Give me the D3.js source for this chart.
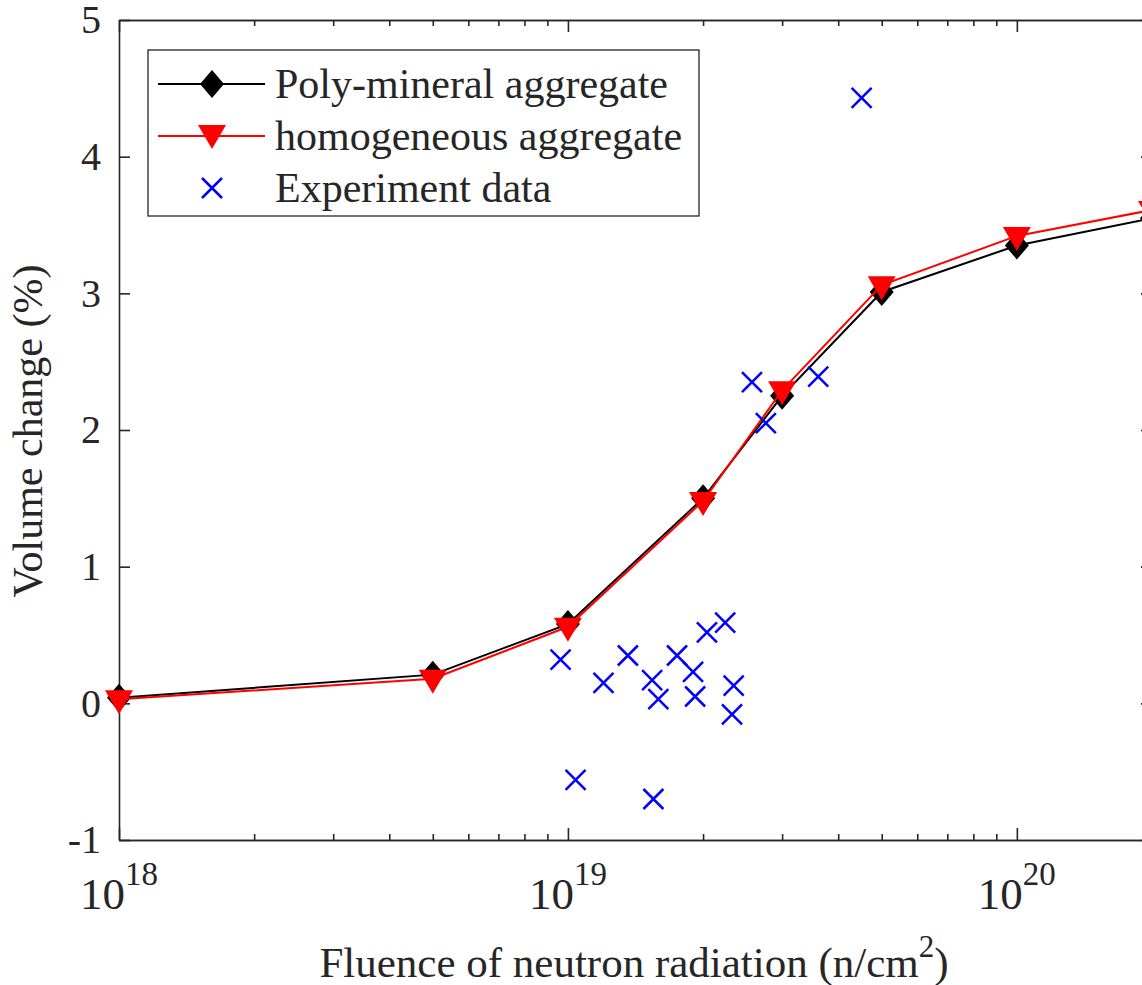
<!DOCTYPE html>
<html>
<head>
<meta charset="utf-8">
<script src="https://cdnjs.cloudflare.com/ajax/libs/d3/7.8.5/d3.min.js"></script>
<style>
  body { margin: 0; background: #fff; }
  svg { display: block; }
  text { font-family: "Liberation Serif", "Times New Roman", serif; fill: #262626; }
</style>
</head>
<body>
<div class="chart"></div>
<script>
// model curves
var fluence = [1e18, 5e18, 1e19, 2e19, 3e19, 5e19, 1e20, 2e20];
var polyMineral = [0.04, 0.21, 0.58, 1.5, 2.25, 3.01, 3.35, 3.55];
var homogeneous = [0.03, 0.18, 0.56, 1.48, 2.29, 3.06, 3.42, 3.61];

// experiment points
var expFluence = [9.63e18, 1.04e19, 1.20e19, 1.36e19, 1.54e19, 1.59e19, 1.55e19, 1.75e19, 1.90e19,
                  1.92e19, 2.04e19, 2.24e19, 2.34e19, 2.32e19, 2.57e19, 2.76e19, 3.61e19, 4.51e19];
var expVolume = [0.32, -0.56, 0.15, 0.35, 0.17, 0.03, -0.70, 0.35, 0.23,
                 0.05, 0.52, 0.59, 0.13, -0.08, 2.35, 2.05, 2.39, 4.43];

var yTicks = [-1, 0, 1, 2, 3, 4, 5];
var xMajor = [1e18, 1e19, 1e20];
var xExp = ["18", "19", "20"];
var legendNames = ["Poly-mineral aggregate", "homogeneous aggregate", "Experiment data"];

var axisColor = "#262626";

var svg = d3.select("body div.chart").append("svg").attr("width", 1142).attr("height", 985);

var x = d3.scaleLog().domain([1e18, 2e20]).range([119, 1152]);
var y = d3.scaleLinear().domain([-1, 5]).range([840, 20]);

var xMinor = [];
[1e18, 1e19, 1e20].forEach(function(dec) {
  for (var k = 2; k <= 9; k++) { if (dec * k <= 2e20) xMinor.push(dec * k); }
});

// axes box
function styleAxis(g) {
  g.selectAll("path, line").attr("stroke", axisColor).attr("stroke-width", 1.6);
}

svg.append("g").attr("transform", "translate(0,840)")
  .call(d3.axisBottom(x).tickValues(xMajor).tickSizeInner(-12).tickSizeOuter(0).tickFormat(""))
  .call(styleAxis);
svg.append("g").attr("transform", "translate(0,840)")
  .call(d3.axisBottom(x).tickValues(xMinor).tickSizeInner(-6).tickSizeOuter(0).tickFormat(""))
  .call(styleAxis);
svg.append("g").attr("transform", "translate(0,20)")
  .call(d3.axisTop(x).tickValues(xMajor).tickSizeInner(-12).tickSizeOuter(0).tickFormat(""))
  .call(styleAxis);
svg.append("g").attr("transform", "translate(0,20)")
  .call(d3.axisTop(x).tickValues(xMinor).tickSizeInner(-6).tickSizeOuter(0).tickFormat(""))
  .call(styleAxis);

var yAxis = svg.append("g").attr("transform", "translate(119,0)")
  .call(d3.axisLeft(y).tickValues(yTicks).tickSizeInner(-11).tickSizeOuter(0).tickPadding(18)
        .tickFormat(function(d) { return String(d); }))
  .call(styleAxis);
yAxis.selectAll("text").attr("font-size", 40).attr("font-family", "Liberation Serif")
  .attr("fill", axisColor);

svg.append("g").attr("transform", "translate(1152,0)")
  .call(d3.axisRight(y).tickValues(yTicks).tickSizeInner(-11).tickSizeOuter(0).tickFormat(""))
  .call(styleAxis);

// x tick labels with exponents
var xl = svg.append("g").selectAll("text").data(xMajor).enter().append("text")
  .attr("x", function(d) { return x(d); })
  .attr("y", 909)
  .attr("text-anchor", "middle")
  .attr("font-size", 45);
xl.append("tspan").text("10");
xl.append("tspan").attr("font-size", 33).attr("dy", -24).text(function(d, i) { return xExp[i]; });

// axis titles
var xt = svg.append("text").attr("x", 634).attr("y", 977).attr("text-anchor", "middle").attr("font-size", 43);
xt.append("tspan").text("Fluence of neutron radiation (n/cm");
xt.append("tspan").attr("font-size", 31).attr("dy", -20).text("2");
xt.append("tspan").attr("dy", 20).text(")");

svg.append("text").attr("transform", "translate(42,431) rotate(-90)")
  .attr("text-anchor", "middle").attr("font-size", 42).text("Volume change (%)");

// markers
function diamond(cx, cy) {
  return "M" + cx + "," + (cy - 14) + "L" + (cx + 12) + "," + cy + "L" + cx + "," + (cy + 14) + "L" + (cx - 12) + "," + cy + "Z";
}
function triangleDown(cx, cy) {
  return "M" + (cx - 14) + "," + (cy - 9) + "L" + (cx + 14) + "," + (cy - 9) + "L" + cx + "," + (cy + 15) + "Z";
}
function cross(cx, cy) {
  var s = 10;
  return "M" + (cx - s) + "," + (cy - s) + "L" + (cx + s) + "," + (cy + s) +
         "M" + (cx - s) + "," + (cy + s) + "L" + (cx + s) + "," + (cy - s);
}

var line = d3.line()
  .x(function(d) { return x(d[0]); })
  .y(function(d) { return y(d[1]); });

var polyData = fluence.map(function(f, i) { return [f, polyMineral[i]]; });
var homoData = fluence.map(function(f, i) { return [f, homogeneous[i]]; });
var expData = expFluence.map(function(f, i) { return [f, expVolume[i]]; });

var plot = svg.append("g");

plot.append("path").attr("d", line(polyData)).attr("fill", "none").attr("stroke", "#000").attr("stroke-width", 2);
plot.selectAll("path.dia").data(polyData).enter().append("path").attr("class", "dia")
  .attr("d", function(d) { return diamond(x(d[0]), y(d[1])); })
  .attr("fill", "#000");

plot.append("path").attr("d", line(homoData)).attr("fill", "none").attr("stroke", "#ff0000").attr("stroke-width", 2);
plot.selectAll("path.tri").data(homoData).enter().append("path").attr("class", "tri")
  .attr("d", function(d) { return triangleDown(x(d[0]), y(d[1])); })
  .attr("fill", "#ff0000");

plot.selectAll("path.crs").data(expData).enter().append("path").attr("class", "crs")
  .attr("d", function(d) { return cross(x(d[0]), y(d[1])); })
  .attr("fill", "none").attr("stroke", "#0000ff").attr("stroke-width", 2.5);

// legend
var legend = svg.append("g");
legend.append("rect").attr("x", 148).attr("y", 50).attr("width", 551).attr("height", 166)
  .attr("fill", "#fff").attr("stroke", axisColor).attr("stroke-width", 1.3);

var rowsY = [84, 136, 188];
legend.append("line").attr("x1", 158).attr("x2", 265).attr("y1", rowsY[0]).attr("y2", rowsY[0])
  .attr("stroke", "#000").attr("stroke-width", 2);
legend.append("path").attr("d", diamond(212, rowsY[0])).attr("fill", "#000");
legend.append("line").attr("x1", 158).attr("x2", 265).attr("y1", rowsY[1]).attr("y2", rowsY[1])
  .attr("stroke", "#ff0000").attr("stroke-width", 2);
legend.append("path").attr("d", triangleDown(212, rowsY[1] - 2)).attr("fill", "#ff0000");
legend.append("path").attr("d", cross(212, rowsY[2])).attr("fill", "none").attr("stroke", "#0000ff").attr("stroke-width", 2.5);

legend.selectAll("text.lg").data(legendNames).enter().append("text").attr("class", "lg")
  .attr("x", 275).attr("y", function(d, i) { return rowsY[i] + 14; })
  .attr("font-size", 42).attr("fill", "#000")
  .text(function(d) { return d; });
</script>
</body>
</html>
